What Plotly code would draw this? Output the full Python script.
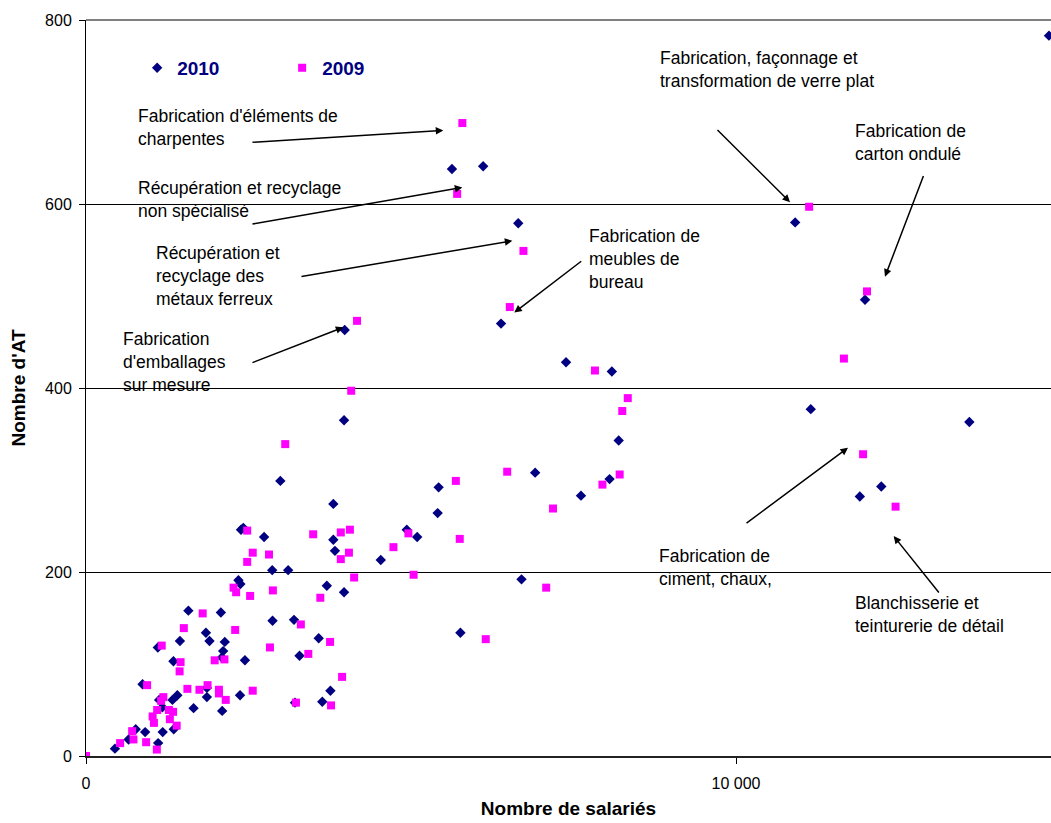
import plotly.graph_objects as go

# ---- data ----
x_2010 = [14815, 5630, 6110, 6650, 10910, 6385, 3980, 11985, 7385, 8090,
          11150, 3970, 13590, 8195, 2990, 8055, 5425, 6910, 12235, 11905,
          7615, 3805, 5410, 2385, 2420, 2740, 3805, 4935, 5095, 3830,
          4535, 2865, 3110, 2345, 2375, 6700, 3705, 3970, 1575, 2075,
          2870, 3200, 1845, 3580, 5760, 1445, 1900, 2135, 1105, 2110,
          2090, 2445, 1345, 3285, 870, 1860, 3760, 1405, 2370, 1125,
          1330, 1860, 1175, 1655, 2095, 3635, 3215, 765, 910, 1180,
          1350, 655, 1110, 445]
y_2010 = [783, 638, 641, 579, 580, 470, 463, 496, 428, 418,
          377, 365, 363, 343, 299, 301, 292, 308, 293, 282,
          283, 274, 264, 246, 248, 238, 235, 246, 238, 223,
          213, 202, 202, 191, 187, 192, 185, 178, 158, 156,
          147, 148, 134, 128, 134, 125, 125, 124, 118, 114,
          107, 104, 103, 109, 78, 74, 71, 66, 66, 61,
          61, 64, 53, 52, 49, 59, 58, 29, 26, 26,
          29, 18, 14, 8]

x_2009 = [5790, 5710, 11125, 6730, 6520, 4170, 12015, 11660, 7830, 4080,
          8335, 8250, 3065, 11955, 5690, 6480, 8210, 7945, 12455, 7185,
          2480, 3920, 4060, 3495, 4960, 5750, 4730, 4045, 2565, 2815,
          3920, 2480, 5040, 4125, 2270, 2310, 7080, 2525, 2875, 3605,
          1795, 1505, 2295, 3305, 6150, 3755, 1165, 2830, 3420, 1980,
          2130, 1455, 1440, 3940, 940, 1870, 1560, 1745, 2045, 2045,
          2565, 1190, 1155, 2150, 3230, 3770, 1095, 1275, 1340, 1025,
          1045, 1290, 1395, 710, 730, 525, 925, 1090, 0]
y_2009 = [688, 611, 597, 549, 488, 473, 505, 432, 419, 397,
          389, 375, 339, 328, 299, 309, 306, 295, 271, 269,
          245, 243, 246, 241, 242, 236, 227, 221, 221, 219,
          214, 211, 197, 194, 183, 178, 183, 174, 180, 172,
          155, 139, 137, 143, 127, 124, 120, 118, 111, 104,
          105, 102, 92, 86, 77, 77, 73, 72, 72, 68,
          71, 64, 60, 61, 58, 55, 50, 50, 48, 43,
          36, 40, 33, 27, 18, 14, 15, 7, 0]

x_tickvals = [0, 10000]
x_ticktext = ["0", "10 000"]
y_tickvals = [0, 200, 400, 600, 800]

labels = [
    "Fabrication d'éléments de<br>charpentes",
    "Récupération et recyclage<br>non spécialisé",
    "Récupération et<br>recyclage des<br>métaux ferreux",
    "Fabrication<br>d'emballages<br>sur mesure",
    "Fabrication de<br>meubles de<br>bureau",
    "Fabrication, façonnage et<br>transformation de verre plat",
    "Fabrication de<br>carton ondulé",
    "Fabrication de<br>ciment, chaux,",
    "Blanchisserie et<br>teinturerie de détail",
]

# label placement (x left, y middle) and arrows (tail -> tip), axis units
label_pos = [(769, 683), (769, 605), (1046, 522), (538, 428), (7708, 540),
             (8800, 746), (11805, 667), (8789, 205), (11800, 154)]
arrows = [((2538, 667), (5497, 680)), ((2538, 578), (5789, 618)),
          ((3292, 521), (6559, 560)), ((2538, 427), (3959, 466)),
          ((7642, 539), (6589, 482)), ((9692, 682), (10831, 602)),
          ((12892, 632), (12292, 521)), ((10139, 252), (11723, 335)),
          ((13139, 176), (12426, 239))]

FONT = "Liberation Sans, Arial, sans-serif"

fig = go.Figure()
fig.add_trace(go.Scatter(x=x_2010, y=y_2010, mode="markers", name="2010",
                         marker=dict(symbol="diamond", size=8, color="#000080")))
fig.add_trace(go.Scatter(x=x_2009, y=y_2009, mode="markers", name="2009",
                         marker=dict(symbol="square", size=8, color="#FF00FF")))

for txt, (lx, ly) in zip(labels, label_pos):
    fig.add_annotation(x=lx, y=ly, xref="x", yref="y", text=txt, showarrow=False,
                       xanchor="left", yanchor="middle", align="left",
                       font=dict(family=FONT, size=17.5, color="black"))
for (tail, tip) in arrows:
    fig.add_annotation(x=tip[0], y=tip[1], ax=tail[0], ay=tail[1],
                       xref="x", yref="y", axref="x", ayref="y", text="",
                       showarrow=True, arrowhead=2, arrowsize=1, arrowwidth=1.5,
                       arrowcolor="black")

# top border of the plot area
fig.add_shape(type="line", xref="paper", yref="paper", x0=0, x1=1, y0=1, y1=1,
              line=dict(color="#808080", width=2))

fig.update_layout(
    width=1051, height=823,
    margin=dict(l=86, r=0, t=20, b=67),
    paper_bgcolor="white", plot_bgcolor="white",
    font=dict(family=FONT, size=16, color="black"),
    showlegend=True,
    legend=dict(orientation="h", x=0.053, y=0.935, xanchor="left", yanchor="middle",
                font=dict(family=FONT, size=19, color="#000080", weight="bold"),
                entrywidth=100, entrywidthmode="pixels", bgcolor="rgba(0,0,0,0)"),
    xaxis=dict(range=[0, 14846], tickvals=x_tickvals, ticktext=x_ticktext,
               showgrid=False, zeroline=False, showline=True, linecolor="#222",
               linewidth=2, ticks="outside", ticklen=6, tickcolor="black",
               ticklabelstandoff=6,
               title=dict(text="<b>Nombre de salariés</b>", standoff=10,
                          font=dict(family=FONT, size=19, color="black"))),
    yaxis=dict(range=[0, 800], tickvals=y_tickvals, showgrid=True,
               gridcolor="black", gridwidth=1, zeroline=False, showline=True,
               linecolor="black", linewidth=1, ticks="outside", ticklen=6,
               tickcolor="black", ticklabelstandoff=4,
               title=dict(text="<b>Nombre d'AT</b>", standoff=14,
                          font=dict(family=FONT, size=19, color="black"))),
)

# drop the default page margin so the figure fills the window exactly
fig.write_html("out.html", config={"displayModeBar": False}, post_script=(
    "document.body.style.margin='0';"
    "document.documentElement.style.overflow='hidden';"))
